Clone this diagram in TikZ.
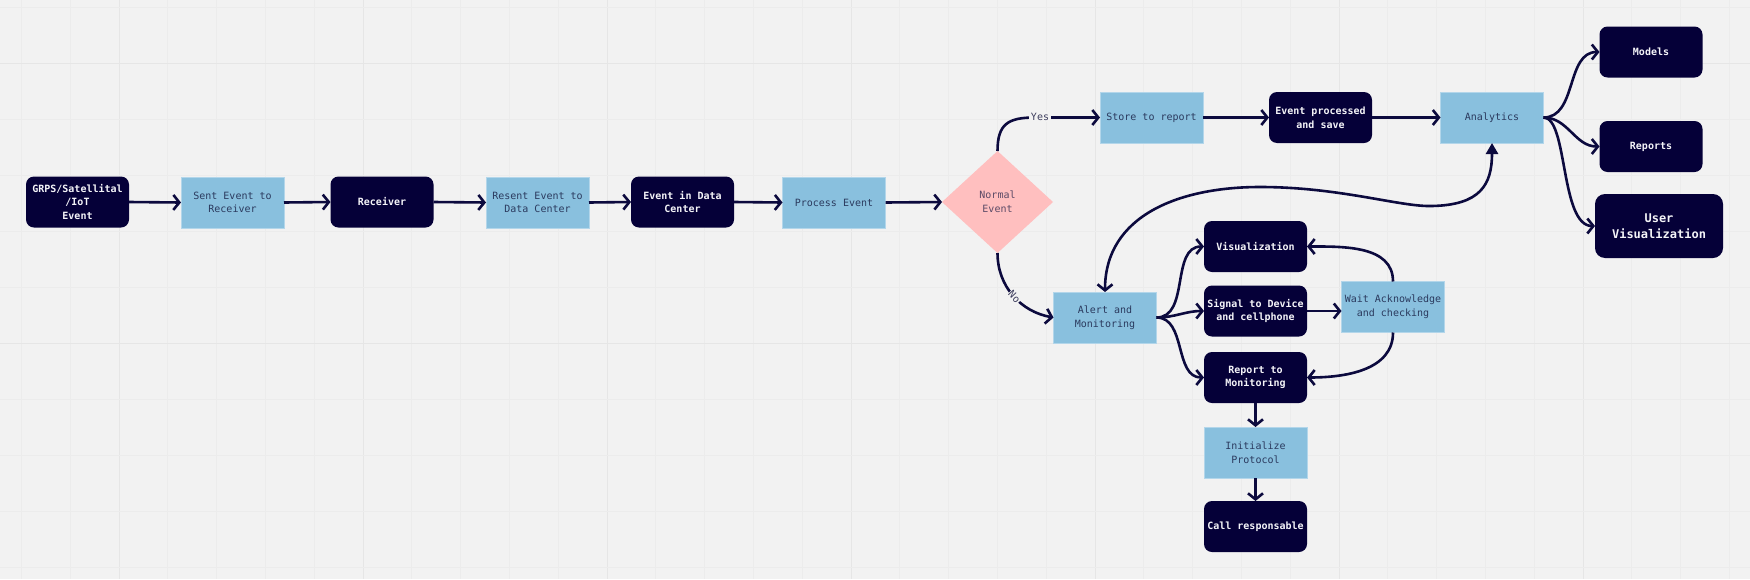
\documentclass[tikz,border=0pt]{standalone}
\usepackage{fontspec}
\setmonofont{DejaVu Sans Mono}
\usetikzlibrary{arrows.meta,shapes.geometric}
\definecolor{bg}{HTML}{F2F2F2}
\definecolor{gridminor}{HTML}{ECECEC}
\definecolor{gridmajor}{HTML}{E6E6E6}
\definecolor{navy}{HTML}{050038}
\definecolor{linec}{HTML}{0C0A3E}
\definecolor{bluefill}{HTML}{89C0DE}
\definecolor{blueedge}{HTML}{B3D6EA}
\definecolor{bluetext}{HTML}{2B3A5E}
\definecolor{pinkfill}{HTML}{FFBFBF}
\definecolor{pinktext}{HTML}{5B4A66}
\definecolor{whitetext}{HTML}{F4F4F8}
\definecolor{lbltext}{HTML}{3C3C5C}
\begin{document}
\begin{tikzpicture}[x=1pt,y=1pt,
  base/.style={rectangle,minimum width=103pt,minimum height=51pt,inner sep=0pt,outer sep=0pt,align=center,
    font=\ttfamily\fontsize{10}{13.7}\selectfont},
  dark/.style={base,fill=navy,rounded corners=8pt,text=whitetext,font=\ttfamily\bfseries\fontsize{10}{13.7}\selectfont},
  blue/.style={base,fill=bluefill,draw=blueedge,line width=0.9pt,text=bluetext},
  decision/.style={diamond,fill=pinkfill,inner sep=0pt,outer sep=0pt,minimum width=111pt,minimum height=102pt,
    align=center,text=pinktext,font=\ttfamily\fontsize{10}{13.7}\selectfont},
  lbl/.style={fill=bg,inner sep=1.5pt,text=lbltext,font=\ttfamily\fontsize{10}{12}\selectfont},
  arr/.style={draw=linec,line width=2.6pt,-{Straight Barb[length=6pt,width=15pt]}},
  arrboth/.style={draw=linec,line width=2.6pt,{Straight Barb[length=6pt,width=15pt]}-{Triangle[length=11pt,width=12pt]}}
]
\useasboundingbox (0,0) rectangle (1750,-579);
\fill[bg] (0,0) rectangle (1750,-579);
% grid
\foreach \i in {0,...,35}{
  \pgfmathtruncatemacro{\m}{mod(\i,5)}
  \ifnum\m=2
    \draw[gridmajor,line width=1pt] ({21.4+48.8*\i},0) -- ({21.4+48.8*\i},-579);
  \else
    \draw[gridminor,line width=1pt] ({21.4+48.8*\i},0) -- ({21.4+48.8*\i},-579);
  \fi
}
\foreach \j in {0,...,10}{
  \pgfmathtruncatemacro{\m}{mod(\j,5)}
  \ifnum\m=1
    \draw[gridmajor,line width=1pt] (0,{-7-56*\j}) -- (1750,{-7-56*\j});
  \else
    \draw[gridminor,line width=1pt] (0,{-7-56*\j}) -- (1750,{-7-56*\j});
  \fi
}
% nodes
\node[dark] (gps) at (77.5,-202) {GRPS/Satellital\\/IoT\\Event};
\node[blue] (sent) at (232.5,-202.5) {Sent Event to\\Receiver};
\node[dark] (recv) at (382,-202) {Receiver};
\node[blue] (resent) at (537.5,-202.5) {Resent Event to\\Data Center};
\node[dark] (edc) at (682.5,-202) {Event in Data\\Center};
\node[blue] (proc) at (834,-202.5) {Process Event};
\node[decision] (norm) at (997.5,-202) {Normal\\Event};
\node[blue] (store) at (1151.5,-117.5) {Store to report};
\node[dark] (evp) at (1320.5,-117.5) {Event processed\\and save};
\node[blue] (anl) at (1492,-117.5) {Analytics};
\node[dark] (models) at (1651,-52) {Models};
\node[dark] (reports) at (1651,-146.5) {Reports};
\node[dark,minimum width=128pt,minimum height=64pt,rounded corners=10pt,font=\ttfamily\bfseries\fontsize{12}{16.5}\selectfont] (uvis) at (1659,-226) {User\\Visualization};
\node[blue] (alert) at (1105,-317.5) {Alert and\\Monitoring};
\node[dark] (vis) at (1255.5,-246.5) {Visualization};
\node[dark] (sig) at (1255.5,-311) {Signal to Device\\and cellphone};
\node[dark] (rep) at (1255.5,-377.5) {Report to\\Monitoring};
\node[blue] (wait) at (1393,-307) {Wait Acknowledge\\and checking};
\node[blue] (init) at (1255.5,-452.5) {Initialize\\Protocol};
\node[dark] (call) at (1255.5,-526.5) {Call responsable};
% connectors
\draw[arr] (gps.east) -- (sent.west);
\draw[arr] (sent.east) -- (recv.west);
\draw[arr] (recv.east) -- (resent.west);
\draw[arr] (resent.east) -- (edc.west);
\draw[arr] (edc.east) -- (proc.west);
\draw[arr] (proc.east) -- (norm.west);
\draw[arr] (norm.north) .. controls (997.5,-124) and (1008,-117.5) .. (1035,-117.5) -- (store.west);
\node[lbl] (yes) at (1040,-117) {Yes};
\draw[arr] (norm.south) to[out=-90,in=170] node[lbl,sloped,pos=0.52,inner sep=0.8pt] (no) {No} (alert.west);
\draw[arr] (store.east) -- (evp.west);
\draw[arr] (evp.east) -- (anl.west);
\draw[arr] (anl.east) to[out=0,in=180] (models.west);
\draw[arr] (anl.east) to[out=0,in=180] (reports.west);
\draw[arr] (anl.east) .. controls (1568,-117.5) and (1560,-226) .. (uvis.west);
\draw[arrboth] (alert.north) .. controls (1105,-215) and (1180,-187) .. (1260,-187)
   .. controls (1340,-187) and (1400,-207) .. (1432,-206)
   .. controls (1480,-205) and (1492,-185) .. (anl.south);
\draw[arr] (alert.east) to[out=0,in=180] (vis.west);
\draw[arr] (alert.east) to[out=0,in=180] (sig.west);
\draw[arr] (alert.east) to[out=0,in=180] (rep.west);
\draw[arr] (sig.east) -- (sig.east -| wait.west);
\draw[arr] (wait.north) to[out=90,in=0] (vis.east);
\draw[arr] (wait.south) to[out=-90,in=0] (rep.east);
\draw[arr] (rep.south) -- (init.north);
\draw[arr] (init.south) -- (call.north);
\end{tikzpicture}
\end{document}
